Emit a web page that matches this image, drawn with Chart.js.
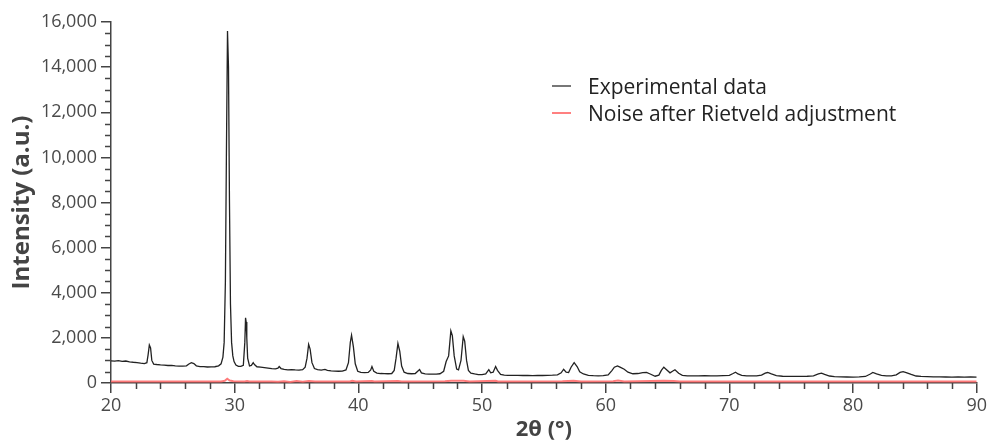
<!DOCTYPE html>
<html>
<head>
<meta charset="utf-8">
<script src="https://cdn.jsdelivr.net/npm/chart.js@4"></script>
<style>
    body { margin: 0; background: #fff; }
    #wrap { position: relative; width: 989px; height: 443px; }
    #legend { position: absolute; left: 552px; top: 72px; font-family: 'Open Sans', sans-serif; font-size: 21px; color: #222; }
    .row { display: flex; align-items: center; height: 27px; }
    .swatch { width: 19px; height: 2px; margin-right: 17px; }
</style>
</head>
<body>
<div id="wrap">
    <canvas id="xrdChart" width="989" height="443"></canvas>
    <div id="legend">
        <div class="row"><span class="swatch" style="background:#777"></span>Experimental data</div>
        <div class="row"><span class="swatch" style="background:#ff8080"></span>Noise after Rietveld adjustment</div>
    </div>
</div>
<script>
// Experimental pattern (2theta in degrees, intensity in a.u.)
var expTheta = [
    20.0, 20.3, 20.6, 20.9, 21.2, 21.5, 21.8, 22.1, 22.4, 22.7, 22.9, 23.0, 23.1, 23.2, 23.3, 23.45, 23.7,
    24.0, 24.3, 24.6, 24.9, 25.2, 25.5, 25.8, 26.1, 26.3, 26.5, 26.7, 26.9, 27.2, 27.5, 27.8, 28.1, 28.4,
    28.7, 28.9, 29.05, 29.15, 29.25, 29.33, 29.42, 29.5, 29.58, 29.66, 29.75, 29.85, 29.95, 30.1, 30.3, 30.5, 30.7,
    30.82, 30.88, 30.93, 30.98, 31.05, 31.2, 31.35, 31.5, 31.6, 31.8, 32.1, 32.4, 32.7, 33.0, 33.3, 33.5, 33.6,
    33.75, 34.0, 34.3, 34.6, 34.9, 35.2, 35.5, 35.7, 35.85, 35.98, 36.1, 36.25, 36.45, 36.7, 37.0, 37.3,
    37.5, 37.8, 38.1, 38.4, 38.7, 39.0, 39.2, 39.35, 39.45, 39.6, 39.75, 39.95, 40.2, 40.5, 40.8, 41.0,
    41.1, 41.25, 41.5, 41.8, 42.1, 42.4, 42.7, 42.9, 43.05, 43.2, 43.35, 43.5, 43.7, 44.0, 44.3, 44.6,
    44.95, 45.1, 45.4, 45.7, 46.0, 46.3, 46.6, 46.9, 47.1, 47.3, 47.48, 47.6, 47.75, 47.95, 48.1, 48.3,
    48.48, 48.6, 48.75, 48.9, 49.1, 49.4, 49.7, 50.0, 50.3, 50.55, 50.7, 50.9, 51.1, 51.25, 51.5, 51.8,
    52.1, 52.5, 52.9, 53.3, 53.7, 54.1, 54.5, 54.9, 55.3, 55.7, 56.1, 56.4, 56.6, 56.8, 57.0, 57.2,
    57.45, 57.7, 57.9, 58.2, 58.6, 59.0, 59.4, 59.8, 60.2, 60.5, 60.7, 60.95, 61.2, 61.5, 61.8, 62.2,
    62.6, 63.0, 63.3, 63.6, 64.0, 64.3, 64.5, 64.7, 64.9, 65.2, 65.4, 65.6, 65.9, 66.2, 66.6, 67.0,
    67.5, 68.0, 68.5, 69.0, 69.5, 70.0, 70.3, 70.5, 70.7, 71.0, 71.4, 71.8, 72.2, 72.6, 72.9, 73.1,
    73.4, 73.8, 74.3, 74.8, 75.3, 75.8, 76.3, 76.8, 77.2, 77.45, 77.7, 78.1, 78.5, 79.0, 79.5, 80.0,
    80.5, 81.0, 81.4, 81.6, 81.9, 82.3, 82.7, 83.1, 83.5, 83.8, 84.05, 84.3, 84.7, 85.1, 85.5, 86.0,
    86.5, 87.0, 87.5, 88.0, 88.5, 89.0, 89.5, 90.0
];
var expIntensity = [
    985, 970, 990, 960, 975, 940, 920, 905, 880, 860, 900, 1250, 1680, 1550, 1000, 840, 820,
    800, 790, 775, 780, 760, 750, 745, 760, 840, 900, 860, 760, 730, 725, 710, 715, 720,
    760, 850, 1150, 1800, 4500, 10000, 15600, 14000, 8000, 3500, 1800, 1200, 950, 800, 740, 735, 780,
    1800, 2890, 2700, 2000, 1100, 760, 780, 900, 820, 720, 700, 680, 660, 635, 630, 660, 730,
    640, 600, 585, 590, 580, 575, 590, 700, 1100, 1710, 1500, 900, 640, 590, 575, 600,
    560, 540, 530, 520, 530, 580, 900, 1800, 2120, 1600, 850, 520, 470, 460, 470, 580,
    730, 520, 440, 420, 415, 410, 420, 560, 1100, 1750, 1400, 750, 480, 420, 410, 420,
    600, 450, 400, 395, 390, 395, 410, 520, 950, 1200, 2310, 2100, 1200, 620, 580, 1000,
    2050, 1850, 1000, 560, 440, 400, 375, 370, 400, 590, 450, 480, 730, 560, 380, 350,
    340, 335, 338, 332, 336, 330, 335, 332, 338, 345, 360, 450, 610, 480, 460, 700,
    900, 720, 500, 400, 340, 325, 320, 330, 360, 550, 700, 760, 690, 610, 480, 410,
    420, 460, 470, 400, 300, 350, 560, 700, 600, 450, 520, 585, 430, 340, 320, 320,
    315, 325, 320, 318, 330, 340, 420, 480, 400, 340, 320, 315, 320, 350, 440, 465,
    400, 330, 300, 295, 290, 295, 300, 320, 400, 440, 380, 310, 280, 270, 265, 262,
    268, 290, 400, 465, 400, 340, 320, 320, 360, 470, 500, 460, 380, 310, 290, 285,
    275, 270, 265, 262, 268, 260, 265, 262
];

// Difference curve after the Rietveld fit
var noiseTheta = [
    20, 25, 28.9, 29.2, 29.4, 29.6, 29.9, 30.8, 31, 31.2, 33, 33.5, 34, 34.5, 35, 35.5, 36, 36.5,
    39.3, 39.5, 39.8, 41.1, 41.3, 43.2, 43.5, 47, 47.5, 48.5, 49, 51.1, 51.3, 56.5, 57.4, 58,
    60.6, 61, 61.5, 64.7, 65.5, 66, 90
];
var noiseIntensity = [
    70, 70, 70, 100, 190, 110, 75, 70, 85, 70, 70, 55, 80, 50, 85, 60, 90, 65,
    70, 100, 65, 90, 70, 90, 70, 75, 100, 100, 70, 95, 70, 75, 100, 70,
    80, 105, 70, 95, 90, 70, 70
];

var xMin = 20, xMax = 90, xStep = 10, xMinorStep = 2;
var yMin = 0, yMax = 16000, yStep = 2000, yMinorStep = 500;

var FONT = "'Open Sans', sans-serif";
var AXIS_COLOR = '#444';

function toPoints(xs, ys) {
    return xs.map(function (x, i) { return { x: x, y: ys[i] }; });
}

// Chart.js has no minor ticks, so draw them from the scales
var minorTicks = {
    id: 'minorTicks',
    afterDraw: function (chart) {
        var ctx = chart.ctx;
        var xs = chart.scales.x, ys = chart.scales.y;
        ctx.save();
        ctx.strokeStyle = AXIS_COLOR;
        ctx.lineWidth = 1.5;
        ctx.beginPath();
        for (let v = yMin; v <= yMax; v += yMinorStep) {
            if (v % yStep === 0) continue;
            let py = Math.round(ys.getPixelForValue(v)) + 0.5;
            ctx.moveTo(ys.right - 6, py);
            ctx.lineTo(ys.right, py);
        }
        for (let v = xMin; v <= xMax; v += xMinorStep) {
            if (v % xStep === 0) continue;
            let px = Math.round(xs.getPixelForValue(v)) + 0.5;
            ctx.moveTo(px, xs.top);
            ctx.lineTo(px, xs.top + 6);
        }
        ctx.stroke();
        ctx.restore();
    }
};

var ctx = document.getElementById('xrdChart').getContext('2d');
new Chart(ctx, {
    type: 'line',
    data: {
        datasets: [{
            label: 'Experimental data',
            data: toPoints(expTheta, expIntensity),
            borderColor: '#222',
            borderWidth: 1.3,
            pointRadius: 0,
            tension: 0
        }, {
            label: 'Noise after Rietveld adjustment',
            data: toPoints(noiseTheta, noiseIntensity),
            borderColor: 'rgba(255, 100, 100, 0.85)',
            borderWidth: 2,
            pointRadius: 0,
            tension: 0
        }]
    },
    options: {
        responsive: false,
        animation: false,
        layout: { padding: { left: 8, right: 11, top: 22, bottom: 0 } },
        plugins: {
            legend: { display: false },
            tooltip: { enabled: false }
        },
        scales: {
            x: {
                type: 'linear',
                min: xMin,
                max: xMax,
                ticks: { stepSize: xStep, color: '#4a4a4a', font: { family: FONT, size: 18 }, padding: 2, maxRotation: 0 },
                grid: { drawOnChartArea: false, tickLength: 10, color: AXIS_COLOR, lineWidth: 1.5 },
                border: { color: AXIS_COLOR, width: 1.5 },
                title: { display: true, text: '2θ (°)', color: '#444', font: { family: FONT, size: 22, weight: 'bold' }, padding: { top: 0, bottom: 0 } },
                afterFit: function (scale) { scale.height = 60; }
            },
            y: {
                min: yMin,
                max: yMax,
                ticks: {
                    stepSize: yStep, color: '#4a4a4a', font: { family: FONT, size: 18 }, padding: 4,
                    callback: function (v) { return v.toLocaleString('en-US'); }
                },
                grid: { drawOnChartArea: false, tickLength: 10, color: AXIS_COLOR, lineWidth: 1.5 },
                border: { color: AXIS_COLOR, width: 1.5 },
                title: { display: true, text: 'Intensity (a.u.)', color: '#444', font: { family: FONT, size: 24, weight: 'bold' }, padding: 0 },
                afterFit: function (scale) { scale.width = 103; }
            }
        }
    },
    plugins: [minorTicks]
});
</script>
</body>
</html>
